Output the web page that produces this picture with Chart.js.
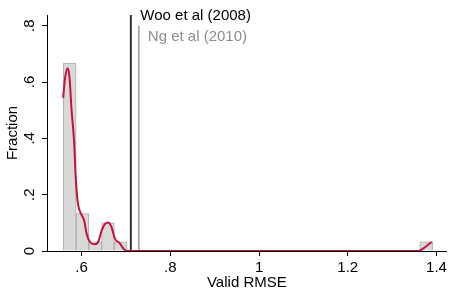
<!DOCTYPE html>
<html>
<head>
<meta charset="utf-8">
<script src="https://cdn.jsdelivr.net/npm/chart.js@4/dist/chart.umd.min.js"></script>
<style>
  html, body { margin: 0; padding: 0; background: #fff; }
  #wrap { width: 450px; height: 300px; }
</style>
</head>
<body>
<div id="wrap"><canvas id="rmse-hist"></canvas></div>
<script>
// histogram bins (centre of bin, fraction)
var binCentres = [0.5733, 0.6020, 0.6307, 0.6594, 0.6881, 1.3769];
var binFractions = [0.667, 0.133, 0.033, 0.100, 0.033, 0.033];

// kernel density
var densX = [0.5585, 0.5624, 0.5684, 0.5725, 0.5775, 0.5833, 0.5865, 0.5910, 0.5962, 0.6059,
             0.6113, 0.6187, 0.6300, 0.6374, 0.6451, 0.6525, 0.6599, 0.6676, 0.6750, 0.6863,
             0.6937, 0.7014, 1.3600, 1.3660, 1.3780, 1.3890];
var densY = [0.544, 0.610, 0.649, 0.620, 0.498, 0.383, 0.268, 0.176, 0.141, 0.107,
             0.061, 0.032, 0.024, 0.032, 0.072, 0.095, 0.101, 0.084, 0.044, 0.027,
             0.009, 0.000, 0.000, 0.005, 0.018, 0.032];

// reference lines
var refNames = ['Woo et al (2008)', 'Ng et al (2010)'];
var refValues = [0.711, 0.729];
var refTops = [0.838, 0.8];

var xTicks = [0.6, 0.8, 1, 1.2, 1.4];
var yTicks = [0, 0.2, 0.4, 0.6, 0.8];

var FONT = '"Liberation Sans", Arial, sans-serif';
var RED = '#c8103c';

function noLeadZero(v) {
  var s = String(Math.round(v * 10) / 10);
  return s.replace(/^0\./, '.');
}

var histData = binCentres.map(function(c, i) { return { x: c, y: binFractions[i] }; });
var densData = densX.map(function(x, i) { return { x: x, y: densY[i] }; });

var refColors = ['#333333', '#9a9a9a'];
var refTextColors = ['#000000', '#8c8c8c'];
var refDatasets = refValues.map(function(v, i) {
  return {
    type: 'line',
    data: [{ x: v, y: 0 }, { x: v, y: refTops[i] }],
    borderColor: refColors[i],
    borderWidth: i === 0 ? 2 : 1.5,
    pointRadius: 0,
    order: 2
  };
});

// writes the study names next to their lines
var refLabelPlugin = {
  id: 'refLabels',
  afterDatasetsDraw: function(chart) {
    var ctx = chart.ctx;
    var xs = chart.scales.x;
    var top = chart.chartArea.top;
    var dy = [4.5, 25.5];
    var dx = [9.5, 9];
    ctx.save();
    ctx.font = '15px ' + FONT;
    ctx.textAlign = 'left';
    ctx.textBaseline = 'alphabetic';
    refNames.forEach(function(name, i) {
      ctx.fillStyle = refTextColors[i];
      ctx.fillText(name, xs.getPixelForValue(refValues[i]) + dx[i], top + dy[i]);
    });
    ctx.restore();
  }
};

var ctx = document.getElementById('rmse-hist').getContext('2d');
var chart = new Chart(ctx, {
  type: 'bar',
  data: {
    datasets: [
      {
        type: 'line',
        data: densData,
        borderColor: RED,
        borderWidth: 2,
        pointRadius: 0,
        cubicInterpolationMode: 'monotone',
        order: 1
      }
    ].concat(refDatasets).concat([
      {
        type: 'bar',
        data: histData,
        backgroundColor: '#d9d9d9',
        borderColor: '#ababab',
        borderWidth: 1,
        barPercentage: 1,
        categoryPercentage: 1,
        order: 3
      }
    ])
  },
  options: {
    responsive: true,
    maintainAspectRatio: false,
    animation: false,
    layout: { padding: { top: 8, right: 3, left: 0, bottom: 0 } },
    plugins: { legend: { display: false }, tooltip: { enabled: false } },
    scales: {
      x: {
        type: 'linear',
        min: 0.522,
        max: 1.423,
        offset: false,
        afterBuildTicks: function(scale) {
          scale.ticks = xTicks.map(function(v) { return { value: v }; });
        },
        afterFit: function(scale) { scale.height = 49; },
        grid: { display: true, drawOnChartArea: false, drawTicks: true, tickLength: 5, color: '#000', offset: false },
        border: { display: true, color: '#000', width: 1 },
        ticks: {
          color: '#000',
          padding: 3,
          maxRotation: 0,
          font: { family: FONT, size: 15 },
          callback: function(value) { return noLeadZero(value); }
        },
        title: {
          display: true,
          text: 'Valid RMSE',
          color: '#000',
          font: { family: FONT, size: 15 },
          padding: { top: 0, bottom: 8 }
        }
      },
      y: {
        min: 0,
        max: 0.838,
        afterBuildTicks: function(scale) {
          scale.ticks = yTicks.map(function(v) { return { value: v }; });
        },
        afterFit: function(scale) { scale.width = 47; },
        grid: { display: true, drawOnChartArea: false, drawTicks: true, tickLength: 5, color: '#000' },
        border: { display: true, color: '#000', width: 1 },
        ticks: {
          color: '#000',
          padding: 6,
          minRotation: 90,
          maxRotation: 90,
          crossAlign: 'center',
          font: { family: FONT, size: 15 },
          callback: function(value) { return noLeadZero(value); }
        },
        title: {
          display: true,
          text: 'Fraction',
          color: '#000',
          font: { family: FONT, size: 15 },
          padding: { top: 4, bottom: 0 }
        }
      }
    }
  },
  plugins: [refLabelPlugin]
});
</script>
</body>
</html>
